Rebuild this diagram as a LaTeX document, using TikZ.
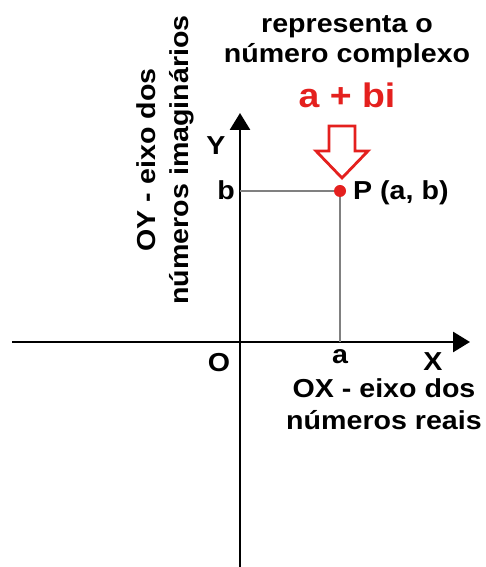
\documentclass[tikz,border=0pt]{standalone}
\usepackage{fontspec}
\setmainfont{Liberation Sans}[FakeStretch=1.1]
\usepackage{xcolor}
\usepackage{tikz}
\usetikzlibrary{arrows.meta}
\definecolor{cred}{RGB}{228,32,30}

\begin{document}
\begin{tikzpicture}[x=1pt, y=1pt, every node/.style={font=\bfseries\fontsize{26}{30}\selectfont, inner sep=0pt, anchor=base},
  axis/.style={line width=2.8pt, -{Triangle[length=17pt,width=20pt]}},
  guide/.style={gray, line width=1.6pt}]
				\useasboundingbox (0,0) rectangle (485,567);
				\coordinate (Xl) at (12,225);
				\coordinate (Xr) at (470,225);
				\coordinate (Yb) at (240,0);
				\coordinate (Yt) at (240,454);
				\coordinate (Pa) at (340,225);
				\coordinate (Pb) at (240,376);
				\coordinate (Pc) at (340,376);
				\coordinate (tip) at (342,389);
				\draw[axis] (Xl) -- (Xr);
				\draw[axis] (Yb) -- (Yt);
				\draw[guide] (Pb) -- (Pc) -- (Pa);
				\node[circle, fill=cred, minimum size=12pt, anchor=center] (P) at (Pc) {};
				\draw[cred, line width=2.8pt] (tip) -- ++(-26,27) -- ++(13,0) -- ++(0,25) -- ++(26,0) -- ++(0,-25) -- ++(13,0) -- cycle;
				\node (lb) at (226,367) {b};
				\node (lY) at (216,412) {Y};
				\node (lO) at (219,195) {O};
				\node (la) at (340,203) {a};
				\node (lX) at (433,196) {X};
				\node[anchor=base west] (lP) at (353,367) {P (a, b)};
				\node (ox1) at (384,169) {OX - eixo dos};
				\node (ox2) at (384,137) {números reais};
				\node (oy1) at (155,407) [rotate=90] {OY - eixo dos};
				\node (oy2) at (188,407) [rotate=90] {números imaginários};
				\node (rep1) at (347,534) {representa o};
				\node (rep2) at (347,504) {número complexo};
				\node[text=cred, font=\bfseries\fontsize{34}{40}\selectfont] (abi) at (347,459) {a + bi};
			\end{tikzpicture}
\end{document}
